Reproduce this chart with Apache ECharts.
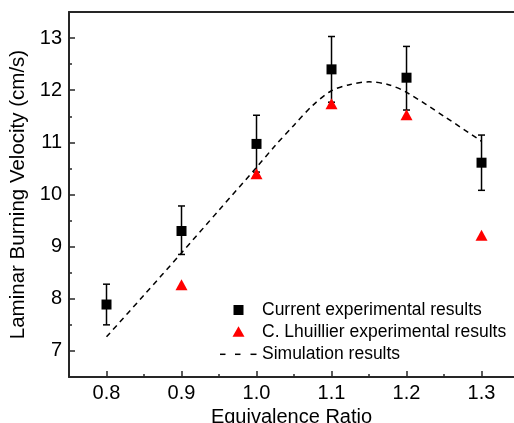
<!DOCTYPE html>
<html>
<head>
<meta charset="utf-8">
<script src="https://cdn.jsdelivr.net/npm/echarts@6/dist/echarts.min.js"></script>
<style>html,body{margin:0;padding:0;background:#fff;}#c{width:514px;height:423px;}</style>
</head>
<body>
<div id="c"></div>
<script>
// Current experimental results: equivalence ratio, velocity, lower, upper
var expPhi = [0.8, 0.9, 1.0, 1.1, 1.2, 1.3];
var expVel = [7.89, 9.30, 10.97, 12.40, 12.24, 10.61];
var expLow = [7.50, 8.85, 10.43, 11.77, 11.62, 10.08];
var expHigh = [8.28, 9.78, 11.52, 13.03, 12.84, 11.14];
// C. Lhuillier experimental results
var lhuPhi = [0.9, 1.0, 1.1, 1.2, 1.3];
var lhuVel = [8.27, 10.40, 11.74, 11.53, 9.22];
// Simulation results
var simPhi = [0.8, 0.85, 0.9, 0.95, 1.0, 1.025, 1.05, 1.075, 1.1, 1.125, 1.15, 1.175, 1.2, 1.25, 1.3];
var simVel = [7.27, 8.07, 8.88, 9.70, 10.52, 10.94, 11.33, 11.71, 11.99, 12.11, 12.16, 12.11, 11.96, 11.50, 11.02];
// ticks
var xMajor = [0.8, 0.9, 1.0, 1.1, 1.2, 1.3];
var xMinor = [0.75, 0.85, 0.95, 1.05, 1.15, 1.25];
var yMajor = [7, 8, 9, 10, 11, 12, 13];
var yMinor = [7.5, 8.5, 9.5, 10.5, 11.5, 12.5];
// legend labels
var legendNames = ['Current experimental results', 'C. Lhuillier experimental results', 'Simulation results'];

var FONT = '"Liberation Sans", Arial, sans-serif';
var AX = '#262626';

function zip(a, b) { return a.map(function (v, i) { return [v, b[i]]; }); }
var errData = expPhi.map(function (v, i) { return [v, expLow[i], expHigh[i]]; });

var chart = echarts.init(document.getElementById('c'));
var xBase = { type: 'value', min: 0.75, max: 1.3433, gridIndex: 0, splitLine: { show: false } };
var yBase = { type: 'value', min: 6.5, max: 13.5, gridIndex: 0, splitLine: { show: false } };

// legend drawn as graphic (icons + real text)
var LX = 238.5, LT = 262, rows = [310, 331.7, 354.3];
var legendGraphic = [
  { type: 'rect', shape: { x: LX - 5, y: rows[0] - 5, width: 10, height: 10 }, style: { fill: '#000' } },
  { type: 'polygon', shape: { points: [[LX, rows[1] - 5.5], [LX + 6, rows[1] + 5], [LX - 6, rows[1] + 5]] }, style: { fill: '#ff0000' } },
  { type: 'line', shape: { x1: 220, y1: rows[2], x2: 225.5, y2: rows[2] }, style: { stroke: '#000', lineWidth: 1.5 } },
  { type: 'line', shape: { x1: 235, y1: rows[2], x2: 240.5, y2: rows[2] }, style: { stroke: '#000', lineWidth: 1.5 } },
  { type: 'line', shape: { x1: 250.5, y1: rows[2], x2: 256.5, y2: rows[2] }, style: { stroke: '#000', lineWidth: 1.5 } }
];
legendNames.forEach(function (n, i) {
  legendGraphic.push({ type: 'text', x: LT, y: rows[i], style: { text: n, fontSize: 17.5, fontFamily: FONT, fill: '#000', textVerticalAlign: 'middle', verticalAlign: 'middle' } });
});

chart.setOption({
  animation: false,
  backgroundColor: '#fff',
  textStyle: { fontFamily: FONT },
  grid: { left: 69, top: 12, right: 0, bottom: 46, containLabel: false, outerBoundsMode: 'none' },
  graphic: legendGraphic,
  xAxis: [
    Object.assign({}, xBase, {
      position: 'bottom',
      name: 'Equivalence Ratio',
      nameLocation: 'middle',
      nameGap: 29,
      nameTextStyle: { fontSize: 20, color: '#000', fontFamily: FONT },
      axisLine: { show: true, lineStyle: { color: AX, width: 2 } },
      axisTick: { show: true, inside: true, length: 6, customValues: xMajor, lineStyle: { color: AX, width: 1.5 } },
      axisLabel: { show: true, customValues: xMajor, margin: 6, fontSize: 20, color: '#000', fontFamily: FONT,
        formatter: function (v) { return v.toFixed(1); } }
    }),
    Object.assign({}, xBase, {
      position: 'bottom',
      axisLine: { show: false },
      axisTick: { show: true, inside: true, length: 3, customValues: xMinor, lineStyle: { color: AX, width: 1.5 } },
      axisLabel: { show: false }
    }),
    Object.assign({}, xBase, {
      position: 'top',
      axisLine: { show: true, lineStyle: { color: AX, width: 2 } },
      axisTick: { show: false },
      axisLabel: { show: false }
    })
  ],
  yAxis: [
    Object.assign({}, yBase, {
      position: 'left',
      name: 'Laminar Burning Velocity (cm/s)',
      nameLocation: 'middle',
      nameGap: 30,
      nameTextStyle: { fontSize: 20.5, color: '#000', fontFamily: FONT },
      axisLine: { show: true, lineStyle: { color: AX, width: 2 } },
      axisTick: { show: true, inside: true, length: 6, customValues: yMajor, lineStyle: { color: AX, width: 1.5 } },
      axisLabel: { show: true, customValues: yMajor, margin: 7, fontSize: 20, color: '#000', fontFamily: FONT }
    }),
    Object.assign({}, yBase, {
      position: 'left',
      axisLine: { show: false },
      axisTick: { show: true, inside: true, length: 3, customValues: yMinor, lineStyle: { color: AX, width: 1.5 } },
      axisLabel: { show: false }
    })
  ],
  series: [
    {
      name: 'Simulation results',
      type: 'line',
      xAxisIndex: 0, yAxisIndex: 0,
      data: zip(simPhi, simVel),
      smooth: 0.3,
      symbol: 'none',
      showSymbol: false,
      lineStyle: { color: '#000', width: 1.5, type: [5.5, 4.5] },
      itemStyle: { color: '#000' },
      z: 2
    },
    {
      name: 'errorbars',
      type: 'custom',
      xAxisIndex: 0, yAxisIndex: 0,
      data: errData,
      encode: { x: 0, y: [1, 2] },
      renderItem: function (params, api) {
        var x = api.value(0);
        var pLo = api.coord([x, api.value(1)]);
        var pHi = api.coord([x, api.value(2)]);
        var w = 3.5;
        var st = { stroke: '#000', lineWidth: 1.5 };
        return {
          type: 'group',
          children: [
            { type: 'line', shape: { x1: pHi[0], y1: pHi[1], x2: pLo[0], y2: pLo[1] }, style: st },
            { type: 'line', shape: { x1: pHi[0] - w, y1: pHi[1], x2: pHi[0] + w, y2: pHi[1] }, style: st },
            { type: 'line', shape: { x1: pLo[0] - w, y1: pLo[1], x2: pLo[0] + w, y2: pLo[1] }, style: st }
          ]
        };
      },
      z: 3
    },
    {
      name: 'C. Lhuillier experimental results',
      type: 'scatter',
      xAxisIndex: 0, yAxisIndex: 0,
      data: zip(lhuPhi, lhuVel),
      symbol: 'triangle',
      symbolSize: [12, 11],
      itemStyle: { color: '#ff0000', opacity: 1 },
      z: 4
    },
    {
      name: 'Current experimental results',
      type: 'scatter',
      xAxisIndex: 0, yAxisIndex: 0,
      data: zip(expPhi, expVel),
      symbol: 'rect',
      symbolSize: 10,
      itemStyle: { color: '#000', opacity: 1 },
      z: 5
    }
  ]
});
</script>
</body>
</html>
